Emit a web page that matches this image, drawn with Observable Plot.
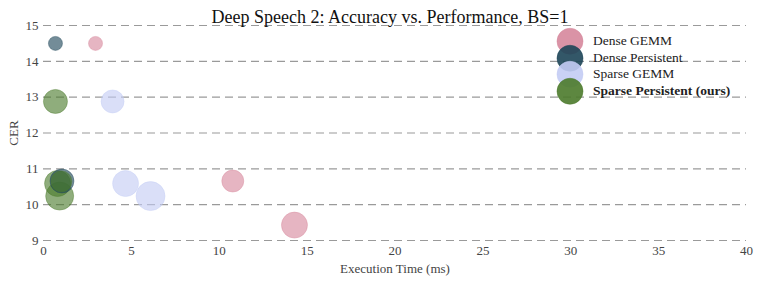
<!DOCTYPE html>
<html>
<head>
<meta charset="utf-8">
<script src="https://cdn.jsdelivr.net/npm/d3@7"></script>
<script src="https://cdn.jsdelivr.net/npm/@observablehq/plot@0.6"></script>
<style>
  html, body { margin: 0; padding: 0; background: #fff; }
  #wrap { position: relative; width: 761px; height: 283px; font-family: "Liberation Serif", serif; }
  #legend { position: absolute; left: 556px; top: 33px; }
  #legend .row { display: flex; align-items: center; height: 16.5px; font-size: 13.5px; color: #222; }
  #legend svg { overflow: visible; width: 28px; height: 16.5px; margin-right: 9px; }
</style>
</head>
<body>
<div id="wrap"></div>
<script>
const title = "Deep Speech 2: Accuracy vs. Performance, BS=1";
const seriesNames = ["Dense GEMM", "Dense Persistent", "Sparse GEMM", "Sparse Persistent (ours)"];
const seriesColors = ["#d6879c", "#1d4558", "#c3ccf4", "#4b7a2b"];
const xTicks = [0, 5, 10, 15, 20, 25, 30, 35, 40];
const yTicks = [9, 10, 11, 12, 13, 14, 15];

// Execution time (ms), CER, relative model size
const denseGemmTime = [2.96, 10.77, 14.28];
const denseGemmCER  = [14.50, 10.66, 9.43];
const denseGemmSize = [49, 121, 169];

const densePersTime = [0.68, 1.05];
const densePersCER  = [14.50, 10.66];
const densePersSize = [49, 144];

const sparseGemmTime = [3.93, 4.67, 6.09];
const sparseGemmCER  = [12.88, 10.59, 10.24];
const sparseGemmSize = [132, 169, 210];

const sparsePersTime = [0.68, 0.80, 0.92, 1.02];
const sparsePersCER  = [12.88, 10.59, 10.24, 10.65];
const sparsePersSize = [144, 169, 196, 110];

const groups = [
  [denseGemmTime, denseGemmCER, denseGemmSize],
  [densePersTime, densePersCER, densePersSize],
  [sparseGemmTime, sparseGemmCER, sparseGemmSize],
  [sparsePersTime, sparsePersCER, sparsePersSize]
];
const data = groups.flatMap(([t, c, s], gi) =>
  t.map((v, i) => ({series: seriesNames[gi], time: v, cer: c[i], size: s[i]})));

const serif = "'Liberation Serif', serif";
const chart = Plot.plot({
  width: 761,
  height: 283,
  marginLeft: 43,
  marginRight: 15,
  marginTop: 25,
  marginBottom: 43,
  style: {fontFamily: serif, fontSize: "13px", color: "#444", background: "#fff", overflow: "visible"},
  x: {domain: [0, 40]},
  y: {domain: [9, 15]},
  r: {type: "sqrt", domain: [0, 196], range: [0, 14]},
  color: {domain: seriesNames, range: seriesColors},
  marks: [
    Plot.gridY(yTicks, {stroke: "#9a9a9a", strokeOpacity: 1, strokeWidth: 1.2, strokeDasharray: "8,5"}),
    Plot.axisY(yTicks, {tickSize: 0, tickPadding: 5, label: "CER", labelAnchor: "center", labelArrow: "none", labelOffset: 35, fontSize: 13}),
    Plot.axisX(xTicks, {tickSize: 0, tickPadding: 5, label: "Execution Time (ms)", labelAnchor: "center", labelArrow: "none", labelOffset: 32, fontSize: 13}),
    Plot.dot(data, {x: "time", y: "cer", r: "size", fill: "series", stroke: "series", fillOpacity: 0.62, strokeOpacity: 0.4, strokeWidth: 1}),
    Plot.text([title], {frameAnchor: "top", dy: -15, dx: -5, fontSize: 18, fontFamily: serif, fill: "#111", text: d => d})
  ]
});
document.getElementById("wrap").appendChild(chart);

const legend = document.createElement("div");
legend.id = "legend";
seriesNames.forEach((name, i) => {
  const row = document.createElement("div");
  row.className = "row";
  row.innerHTML = `<svg viewBox="0 0 28 16.5"><circle cx="14" cy="8.25" r="13" fill="${seriesColors[i]}" fill-opacity="0.9" stroke="${seriesColors[i]}" stroke-opacity="0.5"/></svg><span${i === 3 ? ' style="font-weight:bold"' : ''}>${name}</span>`;
  legend.appendChild(row);
});
document.getElementById("wrap").appendChild(legend);
</script>
</body>
</html>
